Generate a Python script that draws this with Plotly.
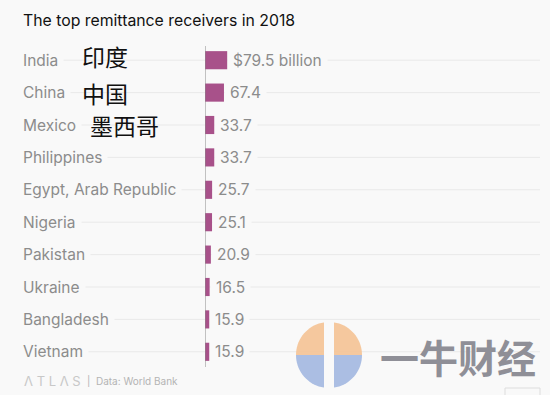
import math
import plotly.graph_objects as go

countries = ["India", "China", "Mexico", "Philippines", "Egypt, Arab Republic",
             "Nigeria", "Pakistan", "Ukraine", "Bangladesh", "Vietnam"]
values = [79.5, 67.4, 33.7, 33.7, 25.7, 25.1, 20.9, 16.5, 15.9, 15.9]
value_labels = ["$79.5 billion", "67.4", "33.7", "33.7", "25.7", "25.1", "20.9", "16.5", "15.9", "15.9"]
cn_notes = {"India": "印度", "China": "中国", "Mexico": "墨西哥"}

W, H = 550, 395
ML, MR, MT, MB = 205, 10, 44, 27
PW, PH = W - ML - MR, H - MT - MB
BG = "#f9f9f9"
BAR = "#a8518a"


def xp(px):
    return (px - ML) / PW


def yp(py):
    return (H - MB - py) / PH


fig = go.Figure(go.Bar(
    x=values, y=countries, orientation="h",
    marker=dict(color=BAR, line=dict(width=0)),
    hoverinfo="skip",
))

shapes = []
annotations = []

# gridlines
for c in countries:
    shapes.append(dict(type="line", xref="paper", yref="y", x0=xp(23), x1=1.0,
                       y0=c, y1=c, line=dict(color="#e9e9e9", width=1), layer="below"))
# axis line
shapes.append(dict(type="line", xref="x", yref="paper", x0=0, x1=0, y0=yp(367), y1=yp(46),
                   line=dict(color="#8a8a8a", width=1)))

# category labels
for c in countries:
    annotations.append(dict(xref="paper", yref="y", x=xp(17), y=c, text=c,
                            xanchor="left", yanchor="middle", showarrow=False,
                            font=dict(family="Inter", size=15.5, color="#8c8c8c"),
                            bgcolor=BG, borderpad=5))
# value labels
for c, v, t in zip(countries, values, value_labels):
    annotations.append(dict(xref="x", yref="y", x=v, y=c, text=t, xshift=0,
                            xanchor="left", yanchor="middle", showarrow=False,
                            font=dict(family="Inter", size=15.5, color="#8c8c8c"),
                            bgcolor=BG, borderpad=5))

# Chinese notes
cn_pos = {"India": (80, 56), "China": (80, 93), "Mexico": (88, 125)}
for k, txt in cn_notes.items():
    px, py = cn_pos[k]
    annotations.append(dict(xref="paper", yref="paper", x=xp(px), y=yp(py), text=txt,
                            xanchor="left", yanchor="middle", showarrow=False,
                            font=dict(family="Noto Sans CJK SC", size=23, color="#111111")))

# title
annotations.append(dict(xref="paper", yref="paper", x=xp(21), y=yp(21),
                        text="The top remittance receivers in 2018",
                        xanchor="left", yanchor="middle", showarrow=False,
                        font=dict(family="Inter", size=15.8, color="#111111")))
# footer
annotations.append(dict(xref="paper", yref="paper", x=xp(22), y=yp(381),
                        text="Λ T L Λ S", xanchor="left", yanchor="middle", showarrow=False,
                        font=dict(family="Inter", size=13, color="#c8c8c8")))
annotations.append(dict(xref="paper", yref="paper", x=xp(85), y=yp(381),
                        text="|  Data: World Bank", xanchor="left", yanchor="middle", showarrow=False,
                        font=dict(family="Inter", size=10, color="#b4b4b4")))

# watermark logo (approximation)
cx, cy, r = 329, 355, 33


def half_path(a0, a1):
    pts = []
    n = 40
    for i in range(n + 1):
        a = a0 + (a1 - a0) * i / n
        pts.append((xp(cx + r * math.cos(a)), yp(cy - r * math.sin(a))))
    d = "M " + " L ".join(f"{x:.5f},{y:.5f}" for x, y in pts) + " Z"
    return d


shapes.append(dict(type="path", xref="paper", yref="paper", path=half_path(0, math.pi),
                   fillcolor="#f5bf8e", line=dict(width=0), opacity=0.85))
shapes.append(dict(type="path", xref="paper", yref="paper", path=half_path(math.pi, 2 * math.pi),
                   fillcolor="#9db4df", line=dict(width=0), opacity=0.85))
shapes.append(dict(type="rect", xref="paper", yref="paper", x0=xp(cx - 5), x1=xp(cx + 5),
                   y0=yp(cy + r), y1=yp(cy - r), fillcolor=BG, line=dict(width=0)))
annotations.append(dict(xref="paper", yref="paper", x=xp(378), y=yp(356), text="<b>一牛财经</b>",
                        xanchor="left", yanchor="middle", showarrow=False,
                        font=dict(family="Noto Sans CJK SC", size=39, color="#8f8f97")))
shapes.append(dict(type="rect", xref="paper", yref="paper", x0=xp(505), x1=xp(540),
                   y0=yp(396), y1=yp(388), line=dict(color="#dddddd", width=1), fillcolor="rgba(0,0,0,0)"))

fig.update_layout(
    width=W, height=H,
    margin=dict(l=ML, r=MR, t=MT, b=MB),
    paper_bgcolor=BG, plot_bgcolor=BG,
    showlegend=False,
    bargap=0.44,
    xaxis=dict(range=[0, 1190], visible=False, fixedrange=True),
    yaxis=dict(categoryorder="array", categoryarray=countries, autorange="reversed",
               showticklabels=False, showgrid=False, zeroline=False, showline=False,
               fixedrange=True),
    shapes=shapes,
    annotations=annotations,
)

fig.write_html("out.html", config={"displayModeBar": False},
               post_script="document.body.style.margin='0';document.body.style.background='%s';" % BG)
